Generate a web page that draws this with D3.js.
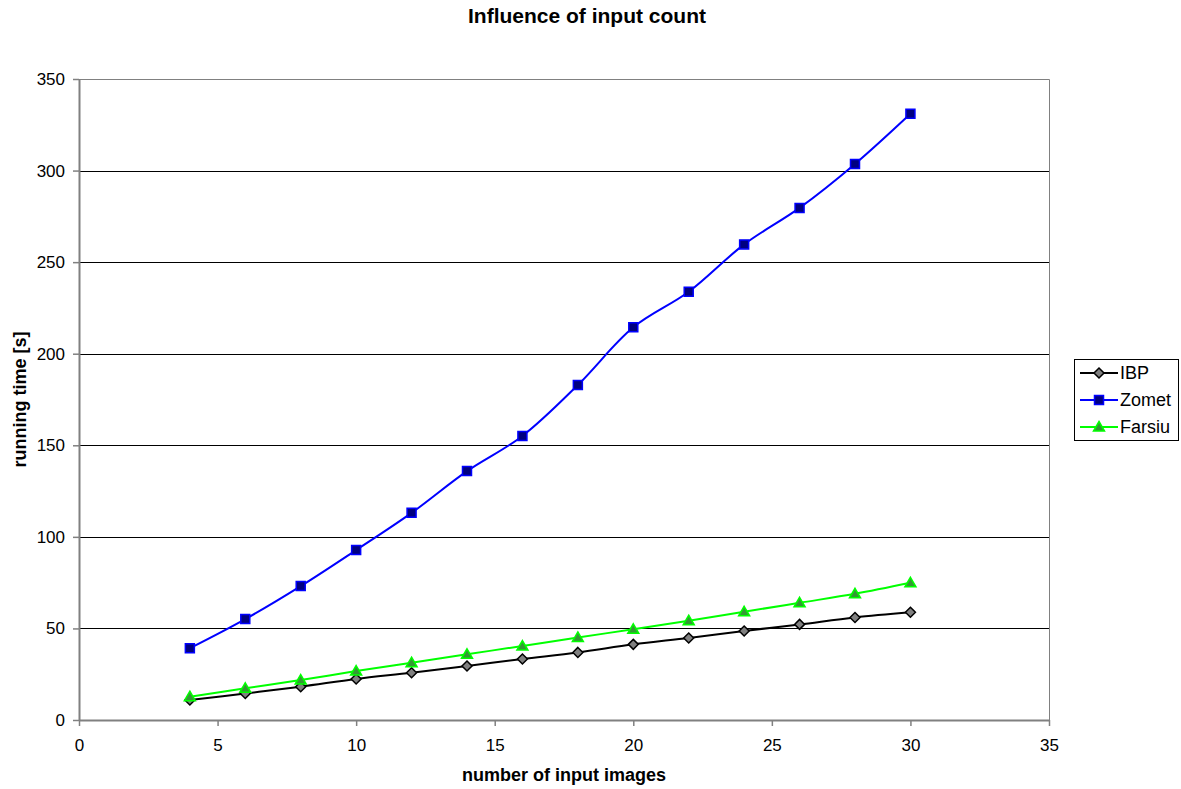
<!DOCTYPE html>
<html>
<head>
<meta charset="utf-8">
<script src="https://cdn.jsdelivr.net/npm/d3@7"></script>
<style>
  html, body { margin: 0; padding: 0; background: #fff; }
  svg { display: block; font-family: "Liberation Sans", Arial, sans-serif; }
</style>
</head>
<body>
<svg id="chart" width="1181" height="789"></svg>
<script>
// Input image counts (x values)
const inputCounts = [4, 6, 8, 10, 12, 14, 16, 18, 20, 22, 24, 26, 28, 30];

// Running time in seconds per method
const ibpTimes    = [10.9, 14.5, 18.2, 22.4, 25.8, 29.5, 33.3, 36.9, 41.3, 44.8, 48.6, 52.2, 56.0, 58.8];
const zometTimes  = [39.2, 55.1, 73.1, 92.8, 113.1, 135.9, 155.1, 182.9, 214.4, 233.8, 259.7, 279.6, 303.6, 331.0];
const farsiuTimes = [12.7, 17.3, 21.8, 26.7, 31.3, 35.9, 40.4, 45.1, 49.5, 54.2, 59.1, 64.0, 68.9, 74.9];

const seriesNames = ["IBP", "Zomet", "Farsiu"];

const xTicks = [0, 5, 10, 15, 20, 25, 30, 35];
const yTicks = [0, 50, 100, 150, 200, 250, 300, 350];

const chartTitle = "Influence of input count";
const xTitle = "number of input images";
const yTitle = "running time [s]";

const series = [
  { name: seriesNames[0], values: ibpTimes,    line: "#000000", fill: "#808080", stroke: "#000000", shape: "diamond" },
  { name: seriesNames[1], values: zometTimes,  line: "#0000FF", fill: "#000080", stroke: "#0000FF", shape: "square" },
  { name: seriesNames[2], values: farsiuTimes, line: "#00FF00", fill: "#339933", stroke: "#00FF00", shape: "triangle" }
];

const svg = d3.select("#chart");
const plot = { left: 79, right: 1049, top: 79, bottom: 720 };

const x = d3.scaleLinear().domain([0, 35]).range([plot.left, plot.right]);
const y = d3.scaleLinear().domain([0, 350]).range([plot.bottom, plot.top]);

// Title
svg.append("text")
  .attr("x", 587).attr("y", 23)
  .attr("text-anchor", "middle")
  .attr("font-size", 21).attr("font-weight", "bold")
  .text(chartTitle);

// Horizontal gridlines
svg.append("g")
  .selectAll("line")
  .data(yTicks.filter(d => d > 0 && d < 350))
  .join("line")
  .attr("x1", plot.left).attr("x2", plot.right)
  .attr("y1", d => Math.round(y(d)) + 0.5).attr("y2", d => Math.round(y(d)) + 0.5)
  .attr("stroke", "#000").attr("stroke-width", 1);

// Plot area frame (top and right)
svg.append("path")
  .attr("d", `M${plot.left},${plot.top + 0.5}H${plot.right + 0.5}V${plot.bottom}`)
  .attr("fill", "none").attr("stroke", "#808080").attr("stroke-width", 1);

// Axes
const xAxis = d3.axisBottom(x).tickValues(xTicks).tickSize(6).tickSizeOuter(0).tickPadding(13);
const yAxis = d3.axisLeft(y).tickValues(yTicks).tickSize(6).tickSizeOuter(0).tickPadding(8);

const gx = svg.append("g").attr("transform", `translate(0,${plot.bottom})`).call(xAxis);
const gy = svg.append("g").attr("transform", `translate(${plot.left},0)`).call(yAxis);

[gx, gy].forEach(g => {
  g.select(".domain").attr("stroke", "#808080").attr("stroke-width", 2);
  g.selectAll(".tick line").attr("stroke", "#808080").attr("stroke-width", 1.5);
  g.selectAll(".tick text").attr("font-size", 17).attr("fill", "#000")
    .attr("font-family", "Liberation Sans, Arial, sans-serif");
});

// Axis titles
svg.append("text")
  .attr("x", (plot.left + plot.right) / 2).attr("y", 781)
  .attr("text-anchor", "middle")
  .attr("font-size", 18).attr("font-weight", "bold")
  .text(xTitle);

svg.append("text")
  .attr("transform", `translate(26,${(plot.top + plot.bottom) / 2}) rotate(-90)`)
  .attr("text-anchor", "middle")
  .attr("font-size", 18).attr("font-weight", "bold")
  .text(yTitle);

// Marker shapes
function markerPath(shape) {
  if (shape === "diamond") return "M0,-5L5,0L0,5L-5,0Z";
  if (shape === "square") return "M-4.5,-4.5H4.5V4.5H-4.5Z";
  return "M0,-5.5L5.5,4L-5.5,4Z";
}

const line = d3.line()
  .x((d, i) => x(inputCounts[i]))
  .y(d => y(d))
  .curve(d3.curveCatmullRom.alpha(0.5));

// Series lines and markers
series.forEach(s => {
  const g = svg.append("g");
  g.append("path")
    .attr("d", line(s.values))
    .attr("fill", "none").attr("stroke", s.line).attr("stroke-width", 2);
  g.selectAll("path.m")
    .data(s.values)
    .join("path")
    .attr("class", "m")
    .attr("transform", (d, i) => `translate(${x(inputCounts[i])},${y(d)})`)
    .attr("d", markerPath(s.shape))
    .attr("fill", s.fill).attr("stroke", s.stroke).attr("stroke-width", 1.5);
});

// Legend
const legend = svg.append("g").attr("transform", "translate(1074,359)");
legend.append("rect")
  .attr("x", 0.5).attr("y", 0.5).attr("width", 104).attr("height", 81)
  .attr("fill", "#fff").attr("stroke", "#000").attr("stroke-width", 1);

series.forEach((s, i) => {
  const ly = 14 + i * 27;
  legend.append("line")
    .attr("x1", 6).attr("x2", 44).attr("y1", ly).attr("y2", ly)
    .attr("stroke", s.line).attr("stroke-width", 2);
  legend.append("path")
    .attr("transform", `translate(25,${ly})`)
    .attr("d", markerPath(s.shape))
    .attr("fill", s.fill).attr("stroke", s.stroke).attr("stroke-width", 1.5);
  legend.append("text")
    .attr("x", 46).attr("y", ly + 6)
    .attr("font-size", 18)
    .text(s.name);
});
</script>
</body>
</html>
